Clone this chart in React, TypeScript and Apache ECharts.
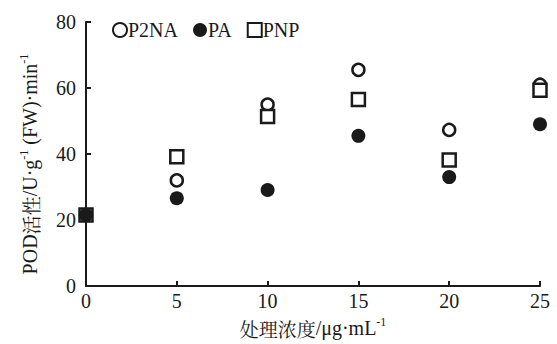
import React, { useEffect, useRef } from "react";
import * as echarts from "echarts";

const concentrations = [0, 5, 10, 15, 20, 25];
const p2naValues = [21.5, 32, 55, 65.5, 47.3, 61];
const paValues = [21.5, 26.6, 29.1, 45.5, 33, 49];
const pnpValues = [21.5, 39.2, 51.4, 56.5, 38.2, 59.3];
const yTicks = [0, 20, 40, 60, 80];

const INK = "#1a1a1a";
const FONT = "'Liberation Serif', 'Times New Roman', serif";

const pairs = (vals: number[]) => concentrations.map((c, i) => [c, vals[i]]);

export default function App() {
  const ref = useRef<HTMLDivElement>(null);
  useEffect(() => {
    if (!ref.current) return;
    const chart = echarts.init(ref.current, undefined, { renderer: "svg" });
    const rich = {
      n: { fontFamily: FONT, fontSize: 20, color: INK },
      c: { fontFamily: "'Noto Serif CJK SC', 'Noto Sans CJK SC', serif", fontSize: 19, color: INK },
      s: { fontFamily: FONT, fontSize: 12, color: INK, verticalAlign: "top", lineHeight: 24 },
    };
    chart.setOption({
      animation: false,
      backgroundColor: "#ffffff",
      grid: { left: 86, right: 17, top: 22, bottom: 58 },
      legend: {
        left: 107,
        top: 15,
        itemWidth: 14,
        itemHeight: 14,
        itemGap: 15,
        textStyle: { fontFamily: FONT, fontSize: 20, color: INK, padding: [0, 0, 0, -4] },
        data: ["P2NA", "PA", "PNP"],
      },
      xAxis: {
        type: "value",
        min: 0,
        max: 25,
        interval: 5,
        name: "{c|处理浓度}{n|/μg·mL}{s|-1}",
        nameLocation: "middle",
        nameGap: 30,
        nameTextStyle: { rich },
        axisLine: { lineStyle: { color: INK, width: 2 } },
        axisTick: { inside: true, length: 5, lineStyle: { color: INK, width: 2 } },
        axisLabel: { fontFamily: FONT, fontSize: 20, color: INK, margin: 5 },
        splitLine: { show: false },
      },
      yAxis: {
        type: "value",
        min: 0,
        max: 80,
        interval: 20,
        name: "{n|POD}{c|活性}{n|/U·g}{s|-1}{n| (FW)·min}{s|-1}",
        nameLocation: "middle",
        nameRotate: 90,
        nameGap: 44,
        nameTextStyle: { rich, padding: [0, 20, 0, 0] },
        axisLine: { show: true, lineStyle: { color: INK, width: 2 } },
        axisTick: { show: true, inside: true, length: 5, lineStyle: { color: INK, width: 2 } },
        axisLabel: {
          fontFamily: FONT,
          fontSize: 20,
          color: INK,
          margin: 10,
          formatter: (v: number) => (yTicks.includes(v) ? String(v) : ""),
        },
        splitLine: { show: false },
      },
      series: [
        {
          name: "P2NA",
          type: "scatter",
          symbol: "circle",
          symbolSize: 12,
          itemStyle: { color: "#ffffff", borderColor: INK, borderWidth: 2.5, opacity: 1 },
          data: pairs(p2naValues),
          z: 2,
        },
        {
          name: "PNP",
          type: "scatter",
          symbol: "rect",
          symbolSize: 13,
          itemStyle: { color: "#ffffff", borderColor: INK, borderWidth: 2.5, opacity: 1 },
          data: pairs(pnpValues),
          z: 3,
        },
        {
          name: "PA",
          type: "scatter",
          symbol: "circle",
          symbolSize: 14,
          itemStyle: { color: INK, borderColor: INK, borderWidth: 0, opacity: 1 },
          data: pairs(paValues),
          z: 4,
        },
      ],
    });
    return () => chart.dispose();
  }, []);
  return <div ref={ref} style={{ width: 557, height: 344, position: "absolute", left: 0, top: 0 }} />;
}
